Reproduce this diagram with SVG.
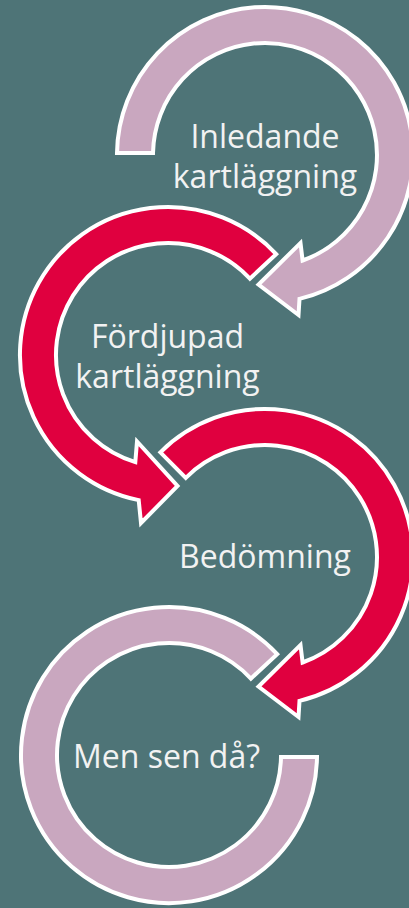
<svg xmlns="http://www.w3.org/2000/svg" width="409" height="908" viewBox="0 0 409 908">
  <style>
    .bg { fill: #4E7477; }
    .ring { stroke: #FFFFFF; stroke-width: 4; stroke-linejoin: miter; stroke-miterlimit: 10; }
    .pink { fill: #C9A7BF; }
    .red { fill: #E0003F; }
    .label { font-family: "Open Sans", "Noto Sans", "Liberation Sans", sans-serif; font-size: 32px; fill: #F2F2F2; text-anchor: middle; }
  </style>
  <rect class="bg" x="0" y="0" width="409" height="908"/>
  <g id="node-inledande">
    <path class="ring pink" d="M 117 153 A 148 148 0 1 1 299.5 298.9 L 298.5 315 L 258.5 284.5 L 300.5 243 L 302.6 260.5 A 112 112 0 1 0 153 153 Z"/>
    <text class="label" x="265" y="148">Inledande</text>
    <text class="label" x="265" y="188">kartläggning</text>
  </g>
  <g id="node-fordjupad">
    <path class="ring red" d="M 276.2 254.1 A 148 148 0 1 0 138.7 500.1 L 141 523 L 177.5 486 L 137 441.5 L 135.3 462.1 A 112 112 0 1 1 249.9 278.6 Z"/>
    <text class="label" x="167.5" y="348">Fördjupad</text>
    <text class="label" x="167.5" y="388">kartläggning</text>
  </g>
  <g id="node-bedomning">
    <path class="ring red" d="M 160.35 452.35 A 148 148 0 1 1 299.5 700.9 L 298.5 717 L 258.5 686.5 L 300.5 645 L 302.6 662.5 A 112 112 0 1 0 185.8 477.8 Z"/>
    <text class="label" x="265" y="568">Bedömning</text>
  </g>
  <g id="node-men-sen-da">
    <path class="ring pink" d="M 277.2 654.1 A 148 148 0 1 0 317 757 L 281 757 A 112 112 0 1 1 250.9 678.6 Z"/>
    <text class="label" x="166.5" y="768">Men sen då?</text>
  </g>
  <g id="connectors"></g>
</svg>
